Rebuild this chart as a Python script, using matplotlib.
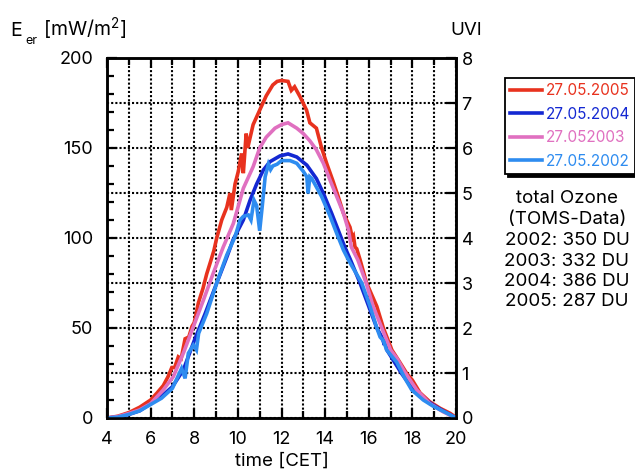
import matplotlib
matplotlib.use("Agg")
import matplotlib.pyplot as plt
from matplotlib.ticker import MultipleLocator

# UV irradiance, 27 May of four years
t_2005 = [4.0, 4.5, 5.0, 5.5, 6.0, 6.3, 6.58, 6.8, 6.97, 7.1, 7.27, 7.4, 7.58, 7.75, 7.9, 8.0,
          8.19, 8.4, 8.57, 8.75, 8.9, 9.03, 9.26, 9.49, 9.64, 9.7, 9.87, 10.02, 10.17, 10.25,
          10.38, 10.45, 10.7, 11.0, 11.3, 11.6, 11.8, 12.0, 12.3, 12.45, 12.6, 12.85, 13.15,
          13.3, 13.6, 13.84, 14.07, 14.35, 14.6, 14.84, 15.14, 15.25, 15.3, 15.37, 15.45, 15.6,
          15.9, 16.37, 16.67, 17.06, 17.37, 17.74, 18.0, 18.35, 18.8, 19.27, 19.73, 20.0]
e_2005 = [0, 1, 3, 6, 10, 14, 18, 23, 28, 28, 34, 33, 44, 45, 51, 53,
          64, 72, 80, 87, 93, 100, 110, 117, 125, 115.5, 130, 137, 147, 136,
          158, 150, 163, 171, 179, 185, 187, 187.5, 187, 182, 184, 178.5, 171,
          164, 161, 150, 141.5, 132, 123, 113.7, 106, 100, 101, 95, 94, 88,
          75, 62, 50, 37.8, 32, 24.8, 21, 14, 9, 5.4, 2.6, 0.3]

t_2004 = [4.0, 4.5, 5.0, 5.5, 6.0, 6.5, 7.0, 7.5, 8.0, 8.5, 9.0, 9.5, 9.78, 10.25, 10.56, 10.86,
          11.17, 11.47, 11.93, 12.3, 12.7, 13.16, 13.6, 13.92, 14.3, 14.6, 14.9, 15.14, 15.6,
          16.0, 16.37, 16.6, 16.72, 16.75, 16.82, 17.13, 17.5, 18.05, 18.5, 18.96, 19.4, 20.0]
e_2004 = [0, 0.5, 2, 4, 8, 12, 17.4, 26.7, 43, 58, 74, 89.6, 99, 110, 121, 130,
          137.8, 142.4, 145.6, 146.7, 145, 140.5, 133, 124.8, 113.7, 104.4, 95, 88.5, 75,
          62, 50, 45, 40.5, 44, 38, 32, 24.8, 15.6, 11, 7.2, 4, 0]

t_2003 = [4.0, 4.5, 5.0, 5.5, 6.0, 6.58, 7.04, 7.5, 7.96, 8.42, 8.87, 9.33, 9.79, 10.05, 10.25,
          10.7, 11.0, 11.3, 11.7, 12.0, 12.3, 12.7, 13.0, 13.3, 13.6, 13.92, 14.23, 14.6, 14.84,
          15.07, 15.2, 15.5, 15.88, 16.2, 16.6, 17.0, 17.3, 17.65, 17.9, 18.2, 18.8, 19.4, 20.0]
e_2003 = [0, 0.8, 2.5, 4.5, 8, 15.6, 23, 36, 50.7, 65.5, 80.4, 95, 108, 119, 127.6,
          139.6, 150, 156, 161, 163, 164, 161, 158, 154, 149, 141.5, 132, 121, 113.7,
          104.4, 95, 87.8, 75, 62, 50, 37.8, 33, 25.5, 21, 15.6, 8, 3.5, 0]

t_2002 = [4.0, 4.5, 5.0, 5.5, 6.0, 6.5, 7.0, 7.42, 7.58, 7.73, 7.96, 8.1, 8.2, 8.57, 9.03, 9.49,
          9.87, 10.1, 10.25, 10.48, 10.6, 10.74, 10.86, 11.0, 11.12, 11.25, 11.4, 11.5, 11.6,
          11.8, 12.0, 12.39, 12.7, 13.0, 13.16, 13.22, 13.3, 13.39, 13.84, 14.23, 14.53, 14.84,
          15.07, 15.2, 15.68, 16.06, 16.37, 16.52, 16.67, 16.82, 17.28, 17.66, 17.97, 18.5,
          18.96, 19.6, 20.0]
e_2002 = [0, 0.5, 2, 4, 7.5, 11, 16.5, 27.6, 22, 36, 40.5, 37.8, 47, 58, 75, 90.5,
          100.7, 110, 112, 112.8, 110, 121, 118, 104, 118, 134, 141, 138, 140,
          141, 143, 143, 141.5, 137, 134, 124.8, 134, 133, 123, 112, 102.6, 93.3,
          87.8, 85, 75, 62, 50, 45, 43, 37.8, 31, 22, 15.6, 10,
          6.5, 2.6, 0]

labels = ["27.05.2005", "27.05.2004", "27.052003", "27.05.2002"]
colors = ["#e8321e", "#1428d2", "#e070c0", "#2e8cf0"]

ozone_years = [2002, 2003, 2004, 2005]
ozone_du = [350, 332, 386, 287]

FONT = "Inter"
plt.rcParams["font.family"] = [FONT, "DejaVu Sans"]
plt.rcParams["mathtext.fontset"] = "custom"
plt.rcParams["mathtext.rm"] = FONT

W, H = 635, 471
fig = plt.figure(figsize=(W / 100, H / 100), dpi=100)
ax = fig.add_axes([107 / W, 53 / H, 349 / W, 360 / H])
ax2 = ax.twinx()
ax.set_zorder(ax2.get_zorder() + 1)  # curves above the UVI grid
ax.patch.set_visible(False)

for t, e, lab, col in zip([t_2005, t_2004, t_2003, t_2002], [e_2005, e_2004, e_2003, e_2002],
                          labels, colors):
    ax.plot(t, e, color=col, lw=2.6, label=lab, solid_joinstyle="miter")

ax.set_xlim(4, 20)
ax.set_ylim(0, 200)
ax2.set_ylim(0, 8)

ax.xaxis.set_major_locator(MultipleLocator(2))
ax.xaxis.set_minor_locator(MultipleLocator(1))
ax.yaxis.set_major_locator(MultipleLocator(50))
ax.yaxis.set_minor_locator(MultipleLocator(10))
ax2.yaxis.set_major_locator(MultipleLocator(1))

grid_style = dict(color="black", linestyle=(0, (1, 1)), linewidth=1.5)
ax.grid(axis="x", which="both", **grid_style)
ax2.grid(axis="y", which="major", **grid_style)

ax.tick_params(axis="both", which="both", direction="in", top=True, right=False,
               width=1.6, labelsize=13)
ax.tick_params(axis="both", which="major", length=7)
ax.tick_params(axis="both", which="minor", length=5)
ax.tick_params(axis="y", pad=10)
ax.tick_params(axis="x", pad=9)
ax2.tick_params(axis="y", direction="in", length=7, width=1.6, labelsize=13, pad=4)

for a in (ax, ax2):
    for s in a.spines.values():
        s.set_linewidth(1.8)

leg = ax.legend(loc="upper left", bbox_to_anchor=(505 / W, 1 - 78 / H),
                bbox_transform=fig.transFigure, borderaxespad=0, fontsize=11,
                labelcolor="linecolor", fancybox=False, edgecolor="black",
                shadow={"color": "black", "alpha": 1.0}, framealpha=1,
                handlelength=2.1, handletextpad=0.2, labelspacing=0.55, borderpad=0.35)
leg.get_frame().set_linewidth(1.3)

fig.text(10 / W, 1 - 36 / H, "E", fontsize=14, va="baseline")
fig.text(25 / W, 1 - 44 / H, "er", fontsize=9, va="baseline")
fig.text(43 / W, 1 - 36 / H, "[mW/m$^2$]", fontsize=14, va="baseline")
fig.text(466 / W, 1 - 35 / H, "UVI", fontsize=13.5, va="baseline", ha="center")
fig.text(282 / W, 1 - 466 / H, "time [CET]", fontsize=13.5, va="baseline", ha="center")

fig.text(567 / W, 1 - 203 / H, "total Ozone", fontsize=13.5, va="baseline", ha="center")
fig.text(567 / W, 1 - 224 / H, "(TOMS-Data)", fontsize=13.5, va="baseline", ha="center")
for i, (yr, du) in enumerate(zip(ozone_years, ozone_du)):
    fig.text(567 / W, 1 - (245 + 20.5 * i) / H, f"{yr}: {du} DU", fontsize=13.5,
             va="baseline", ha="center")

fig.savefig("out.png", dpi=100)
